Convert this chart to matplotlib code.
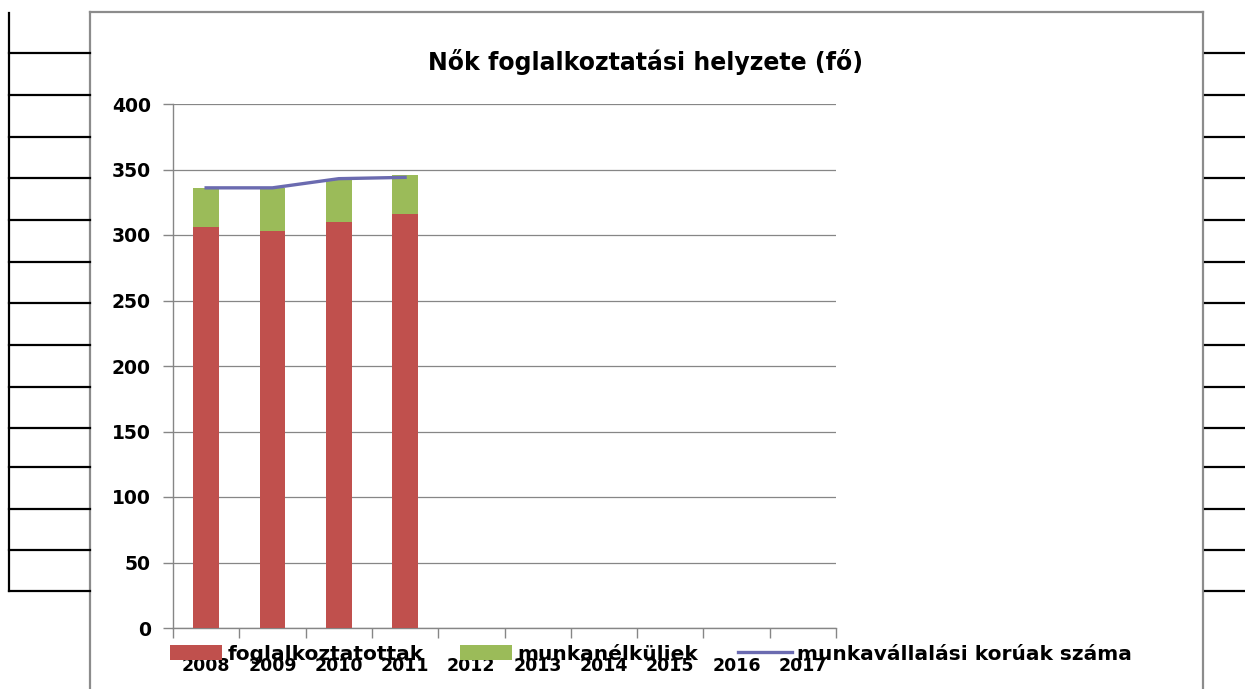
import matplotlib.pyplot as plt
from matplotlib.lines import Line2D

years = ['2008', '2009', '2010', '2011', '2012', '2013', '2014', '2015', '2016', '2017']
foglalkoztatottak = [306, 303, 310, 316]
munkanelkuliek = [30, 33, 32, 30]
munkavallalasi_koruak = [336, 336, 343, 344]

W, H = 1245, 689


def fx(px):
    return px / W


def fy(py):
    return 1 - py / H


plt.rcParams['font.family'] = 'DejaVu Sans'
plt.rcParams['font.weight'] = 'bold'

fig = plt.figure(figsize=(12.45, 6.89), dpi=100)
ax = fig.add_axes([fx(173), fy(628), fx(836) - fx(173), fy(104) - fy(628)])

xpos = list(range(len(foglalkoztatottak)))
b1 = ax.bar(xpos, foglalkoztatottak, width=0.39, color='#c0504d', zorder=3)
b2 = ax.bar(xpos, munkanelkuliek, width=0.39, bottom=foglalkoztatottak,
            color='#9bbb59', zorder=3)
l1, = ax.plot(xpos, munkavallalasi_koruak, color='#6b6bb0', lw=2.4, zorder=4)

ax.set_xlim(-0.5, len(years) - 0.5)
ax.set_ylim(0, 400)
ax.set_yticks(range(0, 401, 50))
ax.grid(axis='y', color='#868686', lw=0.9, zorder=0)

ax.set_xticks([i - 0.5 for i in range(len(years) + 1)])
ax.set_xticklabels([])
ax.set_xticks(range(len(years)), minor=True)
ax.set_xticklabels(years, minor=True, fontsize=12.5, fontweight='bold')
ax.tick_params(axis='x', which='major', length=7, color='#868686', width=1)
ax.tick_params(axis='x', which='minor', length=0, pad=21)
ax.tick_params(axis='y', length=7, color='#868686', width=1, labelsize=13.5, pad=9)

for s in ['top', 'right']:
    ax.spines[s].set_visible(False)
for s in ['left', 'bottom']:
    ax.spines[s].set_color('#868686')
    ax.spines[s].set_linewidth(1)

fig.text(fx(645), fy(62), 'Nők foglalkoztatási helyzete (fő)', ha='center', va='center',
         fontsize=17, fontweight='bold')

# legend, one entry at a time so the entries sit where Excel put them
entries = [(b1, 'foglalkoztatottak', 170, 2.6, 0.75),
           (b2, 'munkanélküliek', 460, 2.6, 0.75),
           (l1, 'munkavállalási korúak száma', 738, 2.7, 0.75)]
for h, lab, x0, hl, hh in entries:
    fig.legend([h], [lab], loc='center left', bbox_to_anchor=(fx(x0), fy(654)),
               frameon=False, fontsize=14.5, handlelength=hl, handleheight=hh,
               handletextpad=0.25, borderpad=0, borderaxespad=0)

# chart frame (bottom edge is cut off)
frame_c = '#8c8c8c'
fig.add_artist(Line2D([fx(90), fx(90)], [fy(12), fy(689)], color=frame_c, lw=1.6))
fig.add_artist(Line2D([fx(90), fx(1203)], [fy(12), fy(12)], color=frame_c, lw=1.6))
fig.add_artist(Line2D([fx(1203), fx(1203)], [fy(12), fy(689)], color=frame_c, lw=1.6))

# table lines around the chart
rows = [53, 95, 137, 178, 220, 262, 303, 345, 387, 428, 467, 509, 550, 591]
fig.add_artist(Line2D([fx(9), fx(9)], [fy(13), fy(591)], color='black', lw=1.6))
for r in rows:
    fig.add_artist(Line2D([fx(9), fx(90)], [fy(r), fy(r)], color='black', lw=1.6))
    fig.add_artist(Line2D([fx(1205), fx(1245)], [fy(r), fy(r)], color='black', lw=1.6))

fig.savefig('out.png', dpi=100)
